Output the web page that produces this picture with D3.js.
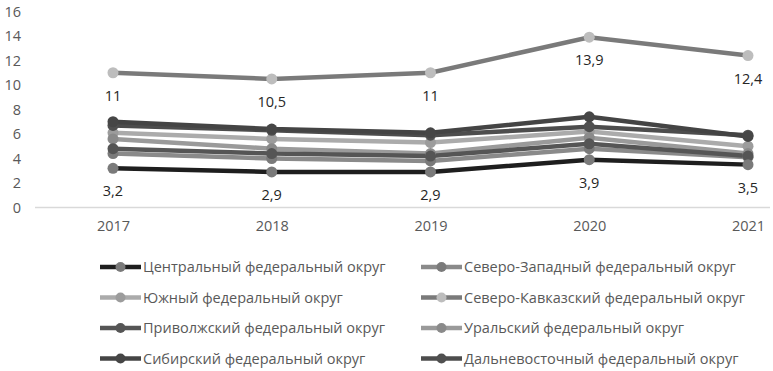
<!DOCTYPE html>
<html>
<head>
<meta charset="utf-8">
<script src="https://cdn.jsdelivr.net/npm/d3@7"></script>
<style>
  body { margin: 0; background: #fff; }
  text { font-family: "Open Sans", "Noto Sans", sans-serif; }
</style>
</head>
<body>
<svg></svg>
<script>
// данные
const years = ["2017", "2018", "2019", "2020", "2021"];
const yTicks = [0, 2, 4, 6, 8, 10, 12, 14, 16];

const names = [
  "Центральный федеральный округ",
  "Северо-Западный федеральный округ",
  "Южный федеральный округ",
  "Северо-Кавказский федеральный округ",
  "Приволжский федеральный округ",
  "Уральский федеральный округ",
  "Сибирский федеральный округ",
  "Дальневосточный федеральный округ"
];

const central = [3.2, 2.9, 2.9, 3.9, 3.5];
const northWest = [4.4, 4.0, 3.8, 4.8, 4.1];
const south = [6.1, 5.6, 5.3, 6.2, 5.0];
const northCaucasus = [11, 10.5, 11, 13.9, 12.4];
const volga = [4.8, 4.4, 4.2, 5.2, 4.2];
const ural = [5.6, 4.8, 4.4, 5.7, 4.4];
const siberia = [7.0, 6.4, 6.1, 7.4, 5.8];
const farEast = [6.7, 6.3, 5.9, 6.6, 5.9];

const values = [central, northWest, south, northCaucasus, volga, ural, siberia, farEast];
const labelled = [0, 3]; // подписи только у двух рядов

const lineColors = ["#1e1e1e", "#8a8a8a", "#ababab", "#7a7a7a", "#555555", "#9a9a9a", "#444444", "#4d4d4d"];
const dotColors = ["#7a7a7a", "#7a7a7a", "#9c9c9c", "#bdbdbd", "#555555", "#8a8a8a", "#464646", "#505050"];

const width = 773;
const height = 371;

const svg = d3.select("svg").attr("width", width).attr("height", height);

const x = d3.scalePoint().domain(years).range([113, 748]);
const y = d3.scaleLinear().domain([0, 16]).range([207.5, 11.5]);

// ось Y
svg.append("g")
  .attr("transform", "translate(21,0)")
  .call(d3.axisLeft(y).tickValues(yTicks).tickSize(0).tickPadding(0))
  .call(g => g.select(".domain").remove())
  .selectAll("text")
  .style("font-size", "14.5px")
  .attr("fill", "#595959");

// ось X
svg.append("line")
  .attr("x1", 35).attr("x2", 770)
  .attr("y1", y(0)).attr("y2", y(0))
  .attr("stroke", "#d9d9d9").attr("stroke-width", 1.5);

svg.append("g")
  .attr("transform", `translate(0,${y(0)})`)
  .call(d3.axisBottom(x).tickSize(0).tickPadding(13))
  .call(g => g.select(".domain").remove())
  .selectAll("text")
  .style("font-size", "14.5px")
  .attr("fill", "#595959");

const line = d3.line()
  .x((d, i) => x(years[i]))
  .y(d => y(d));

// линии рисуем снизу вверх, чтобы тёмные были сверху
const order = [3, 2, 5, 1, 4, 7, 6, 0];

order.forEach(function (k) {
  svg.append("path")
    .datum(values[k])
    .attr("fill", "none")
    .attr("stroke", lineColors[k])
    .attr("stroke-width", 4.5)
    .attr("d", line);
});

order.forEach(function (k) {
  svg.append("g")
    .selectAll("circle")
    .data(values[k])
    .enter()
    .append("circle")
    .attr("cx", (d, i) => x(years[i]))
    .attr("cy", d => y(d))
    .attr("r", 5.5)
    .attr("fill", dotColors[k]);
});

// подписи данных
labelled.forEach(function (k) {
  svg.append("g")
    .selectAll("text")
    .data(values[k])
    .enter()
    .append("text")
    .attr("x", (d, i) => x(years[i]))
    .attr("y", d => y(d) + 28)
    .attr("text-anchor", "middle")
    .style("font-size", "14.5px")
    .attr("fill", "#262626")
    .text(d => String(d).replace(".", ","));
});

// легенда
const legend = svg.append("g");
names.forEach(function (name, k) {
  const col = k % 2;
  const row = Math.floor(k / 2);
  const lx = col === 0 ? 100 : 421;
  const ly = 267 + row * 30.5;
  const g = legend.append("g").attr("transform", `translate(${lx},${ly})`);
  g.append("line")
    .attr("x1", 0).attr("x2", 41)
    .attr("y1", 0).attr("y2", 0)
    .attr("stroke", lineColors[k]).attr("stroke-width", 4.5);
  g.append("circle")
    .attr("cx", 20.5).attr("cy", 0).attr("r", 5)
    .attr("fill", dotColors[k]);
  g.append("text")
    .attr("x", 43).attr("y", 0)
    .attr("dy", "0.35em")
    .style("font-size", "14.5px")
    .attr("fill", "#595959")
    .text(name);
});
</script>
</body>
</html>
